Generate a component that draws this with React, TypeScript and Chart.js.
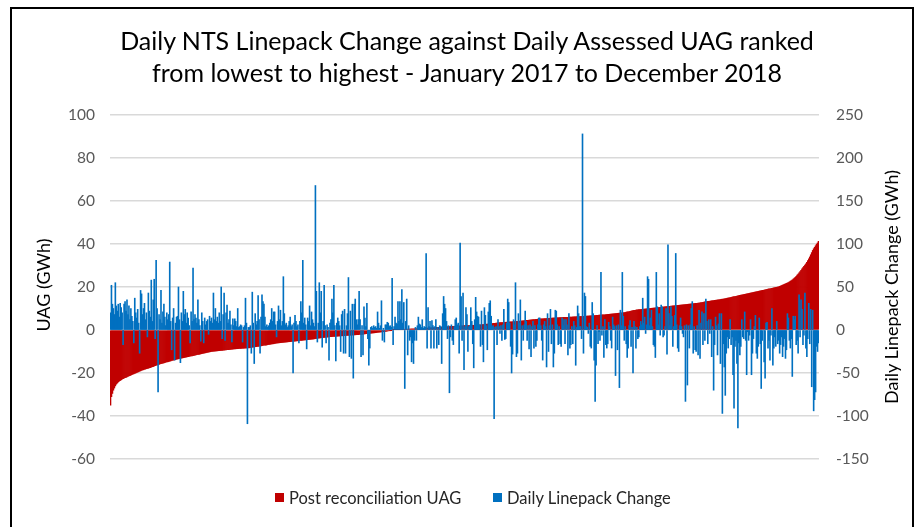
import React, { useEffect, useRef } from "react";
import { Chart, registerables } from "chart.js";

Chart.register(...registerables);

// Post reconciliation UAG (GWh), ranked lowest to highest (left axis)
const uagValues: number[] = [
  -35, -31, -29.5, -28, -27, -26, -25.2, -24.7, -24.2, -23.8,
  -23.5, -23.2, -22.9, -22.6, -22.4, -22.2, -22, -21.8, -21.6, -21.4,
  -21.2, -21.0, -20.8, -20.6, -20.4, -20.2, -20.0, -19.8, -19.6, -19.4,
  -19.2, -19.0, -18.8, -18.6, -18.5, -18.3, -18.2, -18.0, -17.9, -17.8,
  -17.6, -17.5, -17.3, -17.1, -17.0, -16.8, -16.6, -16.4, -16.3, -16.1,
  -16.0, -15.8, -15.7, -15.5, -15.4, -15.3, -15.2, -15.0, -14.9, -14.8,
  -14.7, -14.5, -14.4, -14.2, -14.1, -14.0, -13.9, -13.8, -13.6, -13.5,
  -13.4, -13.3, -13.2, -13.1, -13.0, -12.9, -12.8, -12.7, -12.6, -12.5,
  -12.4, -12.3, -12.2, -12.1, -12.0, -11.9, -11.8, -11.7, -11.6, -11.5,
  -11.4, -11.3, -11.2, -11.1, -11.0, -10.9, -10.8, -10.7, -10.6, -10.5,
  -10.4, -10.3, -10.2, -10.1, -10.0, -9.95, -9.9, -9.85, -9.8, -9.75,
  -9.7, -9.65, -9.6, -9.55, -9.5, -9.45, -9.4, -9.35, -9.3, -9.25,
  -9.2, -9.15, -9.1, -9.05, -9.0, -8.95, -8.9, -8.85, -8.8, -8.75,
  -8.7, -8.7, -8.65, -8.6, -8.6, -8.55, -8.5, -8.5, -8.45, -8.4,
  -8.4, -8.35, -8.3, -8.3, -8.2, -8.1, -8.0, -7.95, -7.9, -7.8,
  -7.7, -7.65, -7.6, -7.5, -7.4, -7.35, -7.3, -7.2, -7.1, -7.05,
  -7.0, -6.9, -6.8, -6.75, -6.7, -6.6, -6.5, -6.45, -6.4, -6.3,
  -6.2, -6.1, -6.05, -6.0, -5.95, -5.9, -5.85, -5.8, -5.75, -5.7,
  -5.65, -5.6, -5.55, -5.5, -5.45, -5.4, -5.35, -5.3, -5.25, -5.2,
  -5.15, -5.1, -5.05, -5.0, -4.95, -4.9, -4.85, -4.8, -4.75, -4.7,
  -4.65, -4.6, -4.55, -4.5, -4.45, -4.4, -4.35, -4.3, -4.25, -4.2,
  -4.1, -4.0, -3.95, -3.9, -3.8, -3.75, -3.7, -3.6, -3.55, -3.5,
  -3.45, -3.4, -3.35, -3.3, -3.25, -3.2, -3.15, -3.1, -3.05, -3.0,
  -3.0, -2.95, -2.9, -2.9, -2.85, -2.8, -2.8, -2.75, -2.7, -2.7,
  -2.65, -2.6, -2.6, -2.55, -2.5, -2.5, -2.45, -2.4, -2.4, -2.35,
  -2.3, -2.3, -2.25, -2.2, -2.2, -2.15, -2.1, -2.1, -2.05, -2.0,
  -1.9, -1.85, -1.8, -1.75, -1.7, -1.65, -1.6, -1.55, -1.5, -1.45,
  -1.4, -1.35, -1.3, -1.25, -1.2, -1.1, -1.05, -1.0, -0.95, -0.9,
  -0.85, -0.8, -0.7, -0.65, -0.6, -0.5, -0.4, -0.3, -0.2, -0.1,
  0.0, 0.05, 0.1, 0.1, 0.15, 0.15, 0.2, 0.2, 0.25, 0.25,
  0.3, 0.3, 0.3, 0.35, 0.35, 0.4, 0.4, 0.4, 0.45, 0.45,
  0.5, 0.5, 0.5, 0.55, 0.55, 0.6, 0.6, 0.65, 0.65, 0.7,
  0.7, 0.75, 0.75, 0.8, 0.8, 0.85, 0.85, 0.9, 0.95, 1.0,
  1.0, 1.05, 1.05, 1.1, 1.1, 1.15, 1.2, 1.2, 1.25, 1.3,
  1.3, 1.35, 1.4, 1.4, 1.45, 1.5, 1.5, 1.55, 1.6, 1.6,
  1.65, 1.65, 1.7, 1.7, 1.75, 1.75, 1.8, 1.8, 1.85, 1.85,
  1.9, 1.9, 1.95, 1.95, 2.0, 2.0, 2.05, 2.05, 2.1, 2.1,
  2.1, 2.15, 2.15, 2.2, 2.2, 2.2, 2.25, 2.25, 2.3, 2.3,
  2.35, 2.4, 2.45, 2.5, 2.55, 2.6, 2.65, 2.7, 2.75, 2.8,
  2.85, 2.9, 2.95, 3.0, 3.05, 3.1, 3.15, 3.2, 3.25, 3.3,
  3.35, 3.4, 3.45, 3.5, 3.5, 3.55, 3.6, 3.6, 3.65, 3.7,
  3.7, 3.75, 3.8, 3.8, 3.85, 3.9, 3.9, 3.95, 4.0, 4.0,
  4.05, 4.1, 4.15, 4.2, 4.25, 4.3, 4.35, 4.4, 4.45, 4.5,
  4.55, 4.6, 4.65, 4.7, 4.75, 4.8, 4.85, 4.9, 4.95, 5.0,
  5.05, 5.1, 5.1, 5.15, 5.2, 5.2, 5.25, 5.3, 5.3, 5.35,
  5.4, 5.4, 5.45, 5.5, 5.5, 5.55, 5.6, 5.6, 5.65, 5.65,
  5.7, 5.7, 5.75, 5.75, 5.8, 5.8, 5.85, 5.85, 5.9, 5.9,
  5.95, 5.95, 6.0, 6.0, 6.05, 6.05, 6.1, 6.1, 6.15, 6.15,
  6.2, 6.2, 6.25, 6.25, 6.3, 6.3, 6.35, 6.35, 6.4, 6.4,
  6.45, 6.5, 6.5, 6.55, 6.6, 6.6, 6.65, 6.7, 6.7, 6.75,
  6.8, 6.8, 6.85, 6.9, 6.9, 6.95, 7.0, 7.0, 7.05, 7.1,
  7.15, 7.2, 7.25, 7.3, 7.35, 7.4, 7.45, 7.5, 7.55, 7.6,
  7.65, 7.7, 7.75, 7.8, 7.85, 7.9, 7.95, 8.0, 8.05, 8.1,
  8.2, 8.3, 8.4, 8.5, 8.6, 8.7, 8.8, 8.9, 9.0, 9.1,
  9.2, 9.3, 9.35, 9.4, 9.45, 9.5, 9.55, 9.6, 9.65, 9.7,
  9.75, 9.8, 9.85, 9.9, 9.95, 10.0, 10.05, 10.1, 10.15, 10.2,
  10.25, 10.3, 10.35, 10.4, 10.45, 10.5, 10.55, 10.6, 10.65, 10.7,
  10.75, 10.8, 10.85, 10.9, 10.95, 11.0, 11.05, 11.1, 11.15, 11.2,
  11.25, 11.3, 11.35, 11.4, 11.45, 11.5, 11.55, 11.6, 11.65, 11.7,
  11.75, 11.8, 11.85, 11.9, 11.95, 12.0, 12.05, 12.1, 12.15, 12.2,
  12.25, 12.3, 12.35, 12.4, 12.45, 12.5, 12.55, 12.6, 12.7, 12.8,
  12.9, 13.0, 13.05, 13.1, 13.2, 13.3, 13.35, 13.4, 13.5, 13.6,
  13.65, 13.7, 13.8, 13.85, 13.9, 14.0, 14.05, 14.1, 14.2, 14.3,
  14.35, 14.4, 14.5, 14.6, 14.7, 14.8, 14.9, 15.0, 15.1, 15.2,
  15.3, 15.4, 15.5, 15.6, 15.7, 15.8, 15.9, 16.0, 16.1, 16.2,
  16.3, 16.4, 16.5, 16.6, 16.7, 16.8, 16.9, 17.0, 17.1, 17.2,
  17.3, 17.4, 17.5, 17.6, 17.7, 17.8, 17.9, 18.0, 18.1, 18.2,
  18.3, 18.4, 18.5, 18.6, 18.7, 18.8, 18.9, 19.0, 19.1, 19.2,
  19.3, 19.4, 19.5, 19.6, 19.7, 19.8, 19.9, 20.0, 20.1, 20.3,
  20.5, 20.7, 20.9, 21.1, 21.3, 21.5, 21.7, 21.9, 22.1, 22.4,
  22.7, 23.0, 23.3, 23.7, 24.1, 24.5, 25.0, 25.5, 26.0, 26.6,
  27.2, 27.8, 28.4, 29.0, 29.6, 30.2, 30.8, 31.5, 32.3, 33.1,
  34.0, 35.0, 36.0, 37.0, 37.8, 38.5, 39.2, 39.9, 40.5, 41.2,
];

// Daily Linepack Change (GWh) on the same ranked days (right axis)
const linepackValues: number[] = [
  20, 52, 30, 25, 18, 55, 28, 22, 30, 15,
  31, 26, 20, -17, 30, 33, 22, 35, 18, 28,
  12, 25, 16, 10, -15, 37, 20, 14, 24, 8,
  -27, 46, 42, 18, 25, 31, 12, 20, -8, 43,
  22, 15, 58, 10, 35, 59, -10, 81, 25, -72,
  18, 12, 46, 8, 21, 30, 15, 5, 20, 12,
  18, 79, 10, -23, 14, 25, -35, 8, 15, 16,
  50, 12, -38, 20, 10, 45, 18, 24, 8, 20,
  14, 5, -15, 21, 10, 72, 12, 18, 14, 8,
  35, 12, 5, -13, 20, 10, -15, 14, 6, 10,
  12, -5, 16, 10, 14, 8, 43, 12, 25, 10,
  15, 8, 20, 10, 50, -10, 18, 43, -12, 20,
  29, 8, 12, 22, 6, -14, 13, 5, 13, 10,
  4, 25, 3, 4, 6, 5, -14, 3, 5, 37,
  8, -109, 3, 3, 5, -27, 44, 8, -39, 19,
  6, 10, 40, 12, -27, 15, 41, 33, 30, 15,
  4, 6, 3, 5, 8, 12, 25, 10, 21, 21,
  6, -8, 10, 28, 12, 23, 5, 10, 62, 19,
  6, 8, 3, 5, 10, 15, 4, 6, -50, 8,
  17, 10, 4, 6, -15, 10, 33, 20, 81, 8,
  14, 6, -22, 14, 10, 28, 5, 21, 12, 8,
  4, 168, 45, -14, 8, 55, 20, 45, -20, 10,
  52, 5, -15, 6, 3, -35, 8, 12, 36, 20,
  52, 5, -36, 8, 14, 10, 5, -25, 18, 22,
  -27, 24, -27, 5, 19, 61, -31, 22, -33, 30,
  -56, 30, 36, 12, 6, 12, 45, 12, -31, 5,
  -29, 27, 14, 4, 31, -10, -41, -21, 3, 4,
  2, 5, 3, 4, 2, 21, 8, 2, 5, 34,
  -12, 2, -14, 6, 6, 9, 8, 4, 5, 3,
  60, -17, 4, 15, 8, 7, 33, 10, 33, 12,
  47, 8, 32, -68, 10, 36, -29, 5, -12, -8,
  -37, -15, -39, -12, 3, -12, 5, 15, 7, 6,
  3, 12, 2, 4, 3, 89, -21, 26, 4, 10,
  -21, 11, 5, -21, 4, 12, -21, 3, -17, 5,
  4, -39, 19, 39, 30, 25, 10, -10, 5, -73,
  -8, 6, -12, -17, 4, 12, 14, 6, 8, -27,
  101, 39, -12, 43, -46, 4, 26, 18, -25, 4,
  5, 26, 10, -16, -44, 12, 38, 21, 16, 15,
  6, -19, 22, -17, -37, 26, 17, 5, -23, 21,
  31, 34, 16, 4, 5, -103, 3, 4, -17, 12,
  4, -4, 5, -12, 6, 24, -11, -10, 8, 36,
  32, 8, -19, -50, -28, 12, 6, 55, -31, -27,
  19, 8, 35, -35, 5, -12, 6, 22, 10, -12,
  5, -22, 6, -31, 4, 10, -21, 5, -19, -12,
  6, 14, 14, 5, -12, -35, 6, 10, 4, -43,
  19, -25, 5, 24, -16, 6, -43, -27, 23, 22,
  6, -17, 4, -16, -19, 14, 5, 12, -16, 12,
  6, -29, 19, -21, -17, 4, -16, 10, 5, -41,
  3, 28, 19, 4, 4, -10, 228, -27, 43, 39,
  4, 3, -4, 8, -19, -21, 32, 19, -35, -83,
  -41, 5, -16, -2, -12, 67, -6, 4, -32, 12,
  -17, -21, -16, 9, 4, -12, -21, 15, 6, 4,
  -53, 5, -23, 6, -67, 23, 5, 67, 16, -12,
  4, -16, -32, -21, 5, 11, -19, 3, -50, 10,
  4, -21, 3, -10, -8, 4, 10, 6, 37, 8,
  15, -4, 6, 62, 59, 5, 14, 23, 4, -17,
  -19, -32, 67, 27, 6, 19, -6, 29, 27, -8,
  -6, 4, 25, -28, 99, 19, 5, 27, 16, -19,
  4, 17, 89, 6, -21, -25, 5, 14, 4, -4,
  -8, 5, -83, 6, -64, 5, -21, 6, 25, 33,
  -27, 4, -23, -25, 5, -29, 23, -33, 8, 21,
  -17, 19, -12, 36, 10, -16, 12, -4, 12, -31,
  4, -70, -17, 15, 5, -29, 7, 19, -39, 19,
  -97, -16, -43, -76, -27, -8, -21, -10, 12, -17,
  -8, -52, -91, -19, -12, -39, -114, -15, -29, -19,
  12, -8, -10, 21, -12, -52, -2, -12, -6, 12,
  -52, -27, -10, 4, 17, -27, -33, -19, 14, -16,
  -68, -12, 0, -37, -56, 8, 9, -21, -12, -35,
  -6, 25, -41, -21, -8, -19, 10, -16, -12, -27,
  -17, -8, -31, -19, -10, -33, -23, 19, 14, -12,
  -21, -10, -54, 16, 12, 16, -17, -12, -27, 41,
  -8, 35, 24, -17, -6, 43, -21, -31, -10, 31,
  -16, 24, -66, 23, -94, -81, -72, -19, -25, -15,
];

const rankLabels: string[] = uagValues.map((_, i) => String(i + 1));

const titleLines = [
  "Daily NTS Linepack Change against Daily Assessed UAG ranked",
  "from lowest to highest - January 2017 to December 2018",
];
const seriesNames = ["Post reconciliation UAG", "Daily Linepack Change"];
const seriesColors = ["#C00000", "#0070C0"];
const leftAxisTitle = "UAG (GWh)";
const rightAxisTitle = "Daily Linepack Change (GWh)";

const FONT = "Lato, 'Open Sans', sans-serif";

export default function App() {
  const canvasRef = useRef<HTMLCanvasElement | null>(null);

  useEffect(() => {
    if (!canvasRef.current) return;
    const chart = new Chart(canvasRef.current, {
      type: "bar",
      data: {
        labels: rankLabels,
        datasets: [
          {
            label: seriesNames[0],
            data: uagValues,
            backgroundColor: seriesColors[0],
            borderWidth: 0,
            yAxisID: "y",
            barPercentage: 1,
            categoryPercentage: 1,
            grouped: false,
            order: 1,
          },
          {
            label: seriesNames[1],
            data: linepackValues,
            backgroundColor: seriesColors[1],
            borderWidth: 0,
            yAxisID: "y1",
            barPercentage: 1,
            categoryPercentage: 1,
            grouped: false,
            order: 0,
          },
        ],
      },
      options: {
        responsive: false,
        animation: false,
        devicePixelRatio: 1,
        layout: { padding: { top: 115, bottom: 68, left: 0, right: 0 } },
        plugins: {
          legend: { display: false },
          title: { display: false },
          tooltip: { enabled: false },
        },
        scales: {
          x: {
            display: false,
            offset: true,
            grid: { display: false },
          },
          y: {
            position: "left",
            min: -60,
            max: 100,
            ticks: {
              stepSize: 20,
              padding: 15,
              color: "#595959",
              font: { family: FONT, size: 15.5 },
            },
            grid: { color: "#d9d9d9", lineWidth: 1.5, drawTicks: false },
            border: { display: false },
            afterFit: (s: any) => {
              s.width = 110;
            },
          },
          y1: {
            position: "right",
            min: -150,
            max: 250,
            ticks: {
              stepSize: 50,
              padding: 17,
              color: "#595959",
              font: { family: FONT, size: 15.5 },
            },
            grid: { drawOnChartArea: false, drawTicks: false },
            border: { display: false },
            afterFit: (s: any) => {
              s.width = 100;
            },
          },
        },
      },
    });
    return () => chart.destroy();
  }, []);

  return (
    <div
      style={{
        position: "fixed",
        left: 0,
        top: 0,
        width: 919,
        height: 527,
        overflow: "hidden",
        background: "#ffffff",
        fontFamily: FONT,
      }}
    >
      <canvas
        ref={canvasRef}
        width={919}
        height={527}
        style={{ position: "absolute", left: 0, top: 0, width: 919, height: 527 }}
      />
      <div
        style={{
          position: "absolute",
          left: 10,
          top: 7,
          width: 904,
          height: 600,
          border: "2px solid #000",
          boxSizing: "border-box",
          pointerEvents: "none",
        }}
      />
      <div
        style={{
          position: "absolute",
          left: 467,
          top: 24,
          transform: "translateX(-50%)",
          textAlign: "center",
          whiteSpace: "nowrap",
          fontSize: 25,
          lineHeight: "32px",
          color: "#000",
        }}
      >
        {titleLines.map((t) => (
          <div key={t}>{t}</div>
        ))}
      </div>
      <div
        style={{
          position: "absolute",
          left: 42.5,
          top: 285,
          transform: "translate(-50%, -50%) rotate(-90deg)",
          whiteSpace: "nowrap",
          fontSize: 18,
          lineHeight: "22px",
          color: "#000",
        }}
      >
        {leftAxisTitle}
      </div>
      <div
        style={{
          position: "absolute",
          left: 890.5,
          top: 287,
          transform: "translate(-50%, -50%) rotate(-90deg)",
          whiteSpace: "nowrap",
          fontSize: 18,
          lineHeight: "22px",
          color: "#000",
        }}
      >
        {rightAxisTitle}
      </div>
      <div style={{ position: "absolute", left: 275, top: 493, width: 9, height: 9, background: seriesColors[0] }} />
      <div
        style={{
          position: "absolute",
          left: 289,
          top: 486.5,
          whiteSpace: "nowrap",
          fontSize: 16.5,
          lineHeight: "22px",
          color: "#262626",
        }}
      >
        {seriesNames[0]}
      </div>
      <div style={{ position: "absolute", left: 493, top: 493, width: 9, height: 9, background: seriesColors[1] }} />
      <div
        style={{
          position: "absolute",
          left: 507,
          top: 486.5,
          whiteSpace: "nowrap",
          fontSize: 16.5,
          lineHeight: "22px",
          color: "#262626",
        }}
      >
        {seriesNames[1]}
      </div>
    </div>
  );
}
